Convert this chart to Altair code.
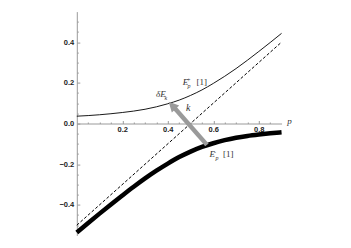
import altair as alt
import pandas as pd

# ---- data ----
p_vals = [0.0, 0.05, 0.1, 0.15, 0.2, 0.25, 0.3, 0.35, 0.4, 0.45, 0.5,
          0.55, 0.6, 0.65, 0.7, 0.75, 0.8, 0.85, 0.9]
e_plus = [0.036, 0.039, 0.043, 0.048, 0.054, 0.061, 0.070, 0.082, 0.097, 0.115,
          0.138, 0.165, 0.197, 0.232, 0.270, 0.311, 0.354, 0.398, 0.443]
e_minus = [-0.536, -0.489, -0.443, -0.398, -0.354, -0.311, -0.270, -0.232, -0.197,
           -0.165, -0.138, -0.115, -0.097, -0.082, -0.070, -0.061, -0.054, -0.048, -0.043]
dash_p = [0.0, 0.9]
dash_e = [-0.5, 0.4]

arrow_p = [0.572, 0.425]
arrow_e = [-0.105, 0.082]
head_p = [0.4215]
head_e = [0.086]

x_major = [0.2, 0.4, 0.6, 0.8]
y_major = [-0.4, -0.2, 0.0, 0.2, 0.4]
x_minor = [0.05, 0.1, 0.15, 0.25, 0.3, 0.35, 0.45, 0.5, 0.55, 0.65, 0.7, 0.75, 0.85]
y_minor = [-0.5, -0.45, -0.35, -0.3, -0.25, -0.15, -0.1, -0.05,
           0.05, 0.1, 0.15, 0.25, 0.3, 0.35, 0.45, 0.5]

ital_text = ["E", "p", "δE", "k", "k", "E", "p", "p"]
ital_x = [0.4655, 0.4866, 0.348, 0.3855, 0.48, 0.583, 0.61, 0.925]
ital_y = [0.189, 0.174, 0.128, 0.115, 0.061, -0.167, -0.179, 0.0]
ital_size = [9, 6, 9, 6, 10, 9, 6, 9]

up_text = ["+", "[1]", "-", "[1]"]
up_x = [0.4844, 0.526, 0.603, 0.643]
up_y = [0.204, 0.189, -0.150, -0.167]
up_size = [6, 9, 6, 9]

W, H = 204.75, 223.8
AX_Y = 111.9  # distance from plot bottom to y=0

curves = pd.DataFrame({"p": p_vals, "plus": e_plus, "minus": e_minus})
dash = pd.DataFrame({"p": dash_p, "e": dash_e})
arrow = pd.DataFrame({"p": arrow_p, "e": arrow_e})
head = pd.DataFrame({"p": head_p, "e": head_e})
ital = pd.DataFrame({"x": ital_x, "y": ital_y, "t": ital_text, "s": ital_size})
up = pd.DataFrame({"x": up_x, "y": up_y, "t": up_text, "s": up_size})

xs = alt.Scale(domain=[0, 0.9], nice=False, zero=False)
ys = alt.Scale(domain=[-0.55, 0.55], nice=False, zero=False)

lab = dict(labelFont="Liberation Sans", labelFontWeight="bold", labelFontSize=7.5,
           labelColor="#222")

x_main = alt.Axis(orient="bottom", offset=-AX_Y, values=x_major, format=".1f",
                  tickSize=0, labelPadding=2, domainColor="#9a9a9a", domainWidth=1,
                  grid=False, title=None, **lab)
y_main = alt.Axis(orient="left", values=y_major, format=".1f", tickSize=0,
                  labelPadding=3, domainColor="#9a9a9a", domainWidth=1,
                  grid=False, title=None, **lab)

x_tmaj = alt.Axis(orient="top", offset=-AX_Y, values=x_major, labels=False, domain=False,
                  tickSize=3, tickColor="#9a9a9a", grid=False, title=None)
y_tmaj = alt.Axis(orient="right", offset=-W, values=y_major, labels=False, domain=False,
                  tickSize=3, tickColor="#9a9a9a", grid=False, title=None)
x_tmin = alt.Axis(orient="top", offset=-AX_Y, values=x_minor, labels=False, domain=False,
                  tickSize=1.5, tickColor="#9a9a9a", grid=False, title=None)
y_tmin = alt.Axis(orient="right", offset=-W, values=y_minor, labels=False, domain=False,
                  tickSize=1.5, tickColor="#9a9a9a", grid=False, title=None)

dash_layer = alt.Chart(dash).mark_line(color="black", strokeWidth=1,
                                       strokeDash=[3, 2]).encode(
    x=alt.X("p:Q", scale=xs, axis=x_main),
    y=alt.Y("e:Q", scale=ys, axis=y_main),
)
plus_layer = alt.Chart(curves).mark_line(color="black", strokeWidth=0.9,
                                         interpolate="monotone").encode(
    x=alt.X("p:Q", scale=xs, axis=x_tmaj),
    y=alt.Y("plus:Q", scale=ys, axis=y_tmaj),
)
minus_layer = alt.Chart(curves).mark_line(color="black", strokeWidth=4.5,
                                          interpolate="monotone").encode(
    x=alt.X("p:Q", scale=xs, axis=x_tmin),
    y=alt.Y("minus:Q", scale=ys, axis=y_tmin),
)
arrow_layer = alt.Chart(arrow).mark_line(color="#9a9a9a", strokeWidth=4.5).encode(
    x=alt.X("p:Q", scale=xs, axis=None),
    y=alt.Y("e:Q", scale=ys, axis=None),
)
head_layer = alt.Chart(head).mark_point(
    shape="M0,-1L0.85,0.7L-0.85,0.7Z", filled=True, color="#9a9a9a", opacity=1,
    size=140, angle=317).encode(
    x=alt.X("p:Q", scale=xs, axis=None),
    y=alt.Y("e:Q", scale=ys, axis=None),
)
ital_layer = alt.Chart(ital).mark_text(
    font="Liberation Serif", fontStyle="italic", align="left",
    baseline="alphabetic", color="#333").encode(
    x=alt.X("x:Q", scale=xs, axis=None),
    y=alt.Y("y:Q", scale=ys, axis=None),
    text="t:N",
    size=alt.Size("s:Q", scale=None, legend=None),
)
up_layer = alt.Chart(up).mark_text(
    font="Liberation Serif", align="left", baseline="alphabetic", color="#333").encode(
    x=alt.X("x:Q", scale=xs, axis=None),
    y=alt.Y("y:Q", scale=ys, axis=None),
    text="t:N",
    size=alt.Size("s:Q", scale=None, legend=None),
)

chart = alt.layer(
    dash_layer, plus_layer, minus_layer, arrow_layer, head_layer, ital_layer, up_layer
).resolve_axis(x="independent", y="independent").properties(
    width=W, height=H,
    autosize=alt.AutoSizeParams(type="none"),
    padding={"left": 68.8, "top": 3.6, "right": 61.45, "bottom": 4.6},
).configure_view(stroke=None).configure_axis(grid=False)

chart.save("out.html", embed_options={"renderer": "svg", "actions": False})
